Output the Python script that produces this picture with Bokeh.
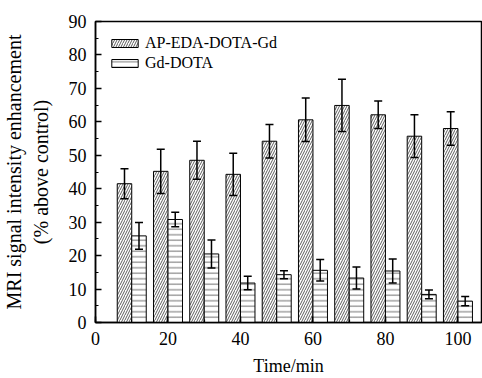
from bokeh.plotting import figure
from bokeh.models import ColumnDataSource, Whisker, TeeHead, SingleIntervalTicker, Range1d
from bokeh.transform import dodge
from bokeh.embed import file_html
from bokeh.resources import INLINE

times = [10, 20, 30, 40, 50, 60, 70, 80, 90, 100]
ap_vals = [41.5, 45.2, 48.5, 44.3, 54.2, 60.6, 64.9, 62.1, 55.7, 58.0]
ap_errs = [4.5, 6.6, 5.7, 6.3, 5.0, 6.5, 7.8, 4.1, 6.4, 5.0]
gd_vals = [25.9, 30.8, 20.5, 11.8, 14.3, 15.6, 13.3, 15.4, 8.4, 6.4]
gd_errs = [4.0, 2.2, 4.2, 2.0, 1.2, 3.2, 3.3, 3.6, 1.3, 1.4]
series_names = ["AP-EDA-DOTA-Gd", "Gd-DOTA"]
x_label = "Time/min"
y_label = "MRI signal intensity enhancement\n(% above control)"

src = ColumnDataSource(dict(
    t=times,
    ap=ap_vals,
    ap_up=[v + e for v, e in zip(ap_vals, ap_errs)],
    ap_lo=[v - e for v, e in zip(ap_vals, ap_errs)],
    gd=gd_vals,
    gd_up=[v + e for v, e in zip(gd_vals, gd_errs)],
    gd_lo=[v - e for v, e in zip(gd_vals, gd_errs)],
))

FONT = "Liberation Serif"
BAR_W = 4
OFF = 2

p = figure(width=482, height=378, output_backend="svg", toolbar_location=None,
           x_range=Range1d(0, 106.5), y_range=Range1d(0, 90),
           min_border_left=94, min_border_right=1, min_border_top=21, min_border_bottom=56)
p.grid.visible = False
p.outline_line_color = "black"
p.outline_line_width = 1.5
p.background_fill_color = "white"
p.border_fill_color = "white"

p.vbar(x=dodge("t", -OFF), top="ap", width=BAR_W, source=src,
       fill_color="white", line_color="black", line_width=1,
       hatch_pattern="/", hatch_color="#333333", hatch_scale=5, hatch_weight=0.8,
       legend_label=series_names[0])
p.vbar(x=dodge("t", OFF), top="gd", width=BAR_W, source=src,
       fill_color="white", line_color="black", line_width=1,
       hatch_pattern="-", hatch_color="#333333", hatch_scale=5.5, hatch_weight=0.7,
       legend_label=series_names[1])

for base, up, lo in [(dodge("t", -OFF), "ap_up", "ap_lo"), (dodge("t", OFF), "gd_up", "gd_lo")]:
    w = Whisker(source=src, base=base, upper=up, lower=lo, line_width=1.5, line_color="black",
                level="overlay",
                upper_head=TeeHead(size=8, line_width=1.5, line_color="black"),
                lower_head=TeeHead(size=8, line_width=1.5, line_color="black"))
    p.add_layout(w)

p.xaxis.ticker = SingleIntervalTicker(interval=20, num_minor_ticks=2)
p.yaxis.ticker = SingleIntervalTicker(interval=10, num_minor_ticks=2)
for ax in (p.xaxis, p.yaxis):
    ax.axis_line_color = "black"
    ax.axis_line_width = 1.5
    ax.major_tick_in = 6
    ax.major_tick_out = 0
    ax.minor_tick_in = 3
    ax.minor_tick_out = 0
    ax.major_tick_line_width = 1.5
    ax.minor_tick_line_width = 1.2
    ax.major_label_text_font = FONT
    ax.major_label_text_font_size = "18px"
    ax.major_label_text_color = "black"
    ax.axis_label_text_font = FONT
    ax.axis_label_text_font_style = "normal"
    ax.axis_label_text_color = "black"

p.xaxis.axis_label = x_label
p.xaxis.axis_label_text_font_size = "18px"
p.xaxis.major_label_standoff = 9
p.xaxis.axis_label_standoff = 8

p.yaxis.axis_label = y_label
p.yaxis.axis_label_text_font_size = "20px"
p.yaxis.major_label_standoff = 9
p.yaxis.axis_label_standoff = 14

lg = p.legend[0]
lg.location = "top_left"
lg.margin = 10
lg.padding = 3
lg.spacing = 2
lg.border_line_alpha = 0
lg.background_fill_alpha = 0
lg.glyph_width = 33
lg.glyph_height = 10
lg.label_standoff = 4
lg.label_text_font = FONT
lg.label_text_font_size = "16px"
lg.label_height = 16
lg.label_text_color = "black"

open("out.html", "w").write(file_html(p, INLINE))
